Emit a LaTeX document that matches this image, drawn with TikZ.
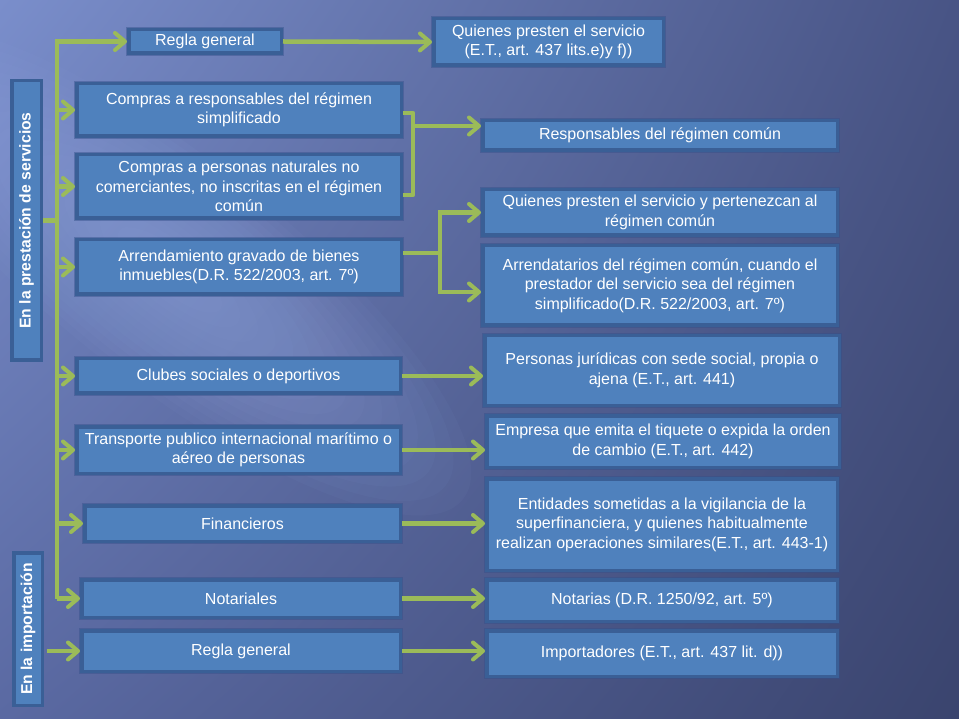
\documentclass[tikz,border=0pt]{standalone}
\usepackage{fontspec}
\setmainfont{Liberation Sans}
\usetikzlibrary{arrows.meta,calc,shadings}
\definecolor{bgUL}{HTML}{7A8ECB}
\definecolor{bgUR}{HTML}{485485}
\definecolor{bgLL}{HTML}{5A69A2}
\definecolor{bgLR}{HTML}{3A446E}
\definecolor{glow}{HTML}{9AB0E8}
\definecolor{boxfill}{HTML}{4F81BD}
\definecolor{boxline}{HTML}{3A5F96}
\definecolor{boxhalo}{HTML}{34508A}
\definecolor{conngreen}{HTML}{9BBB59}
\begin{document}
\begin{tikzpicture}[x=1pt,y=-1pt,
  box/.style={rectangle, fill=boxfill, draw=boxline, line width=3.5pt,
    preaction={draw=boxhalo, line width=6pt, opacity=0.45},
    text=white, align=center, inner sep=2pt,
    font=\fontsize{16}{19.5}\selectfont},
  sidebox/.style={rectangle, fill=boxfill, draw=boxline, line width=3.5pt,
    text=white, inner sep=2pt, font=\fontsize{15.7}{18}\selectfont\bfseries},
  conn/.style={draw=conngreen, line width=4.5pt},
  arr/.style={conn, -{Straight Barb[length=10pt,width=17pt,line width=4pt,round]}}
]
% background
\useasboundingbox (0,0) rectangle (959,719);
\shade[upper left=bgUL, upper right=bgUR, lower left=bgLL, lower right=bgLR] (0,0) rectangle (959,719);
\begin{scope}
\clip (0,0) rectangle (959,719);
\foreach \i in {1,...,16}{
  \fill[glow, opacity=0.045, rotate around={-38:(170,270)}]
    (170,270) ellipse [x radius={(22*\i+20)*1pt}, y radius={(6.5*\i+8)*1pt}];
}
\end{scope}

% side labels
\node[sidebox, minimum width=29.5pt, minimum height=279.5pt] (sp) at (26.5,220.5)
  {\rotatebox{90}{En la prestación de servicios}};
\node[sidebox, minimum width=28.5pt, minimum height=152.5pt] (si) at (28,629)
  {\rotatebox{90}{En la importación}};

% left boxes
\node[box, minimum width=152.5pt, minimum height=23.5pt] (rg1) at (205,41.5) {Regla general};
\node[box, minimum width=324.5pt, minimum height=52.5pt] (cr) at (239,110) {Compras a responsables del régimen\\simplificado};
\node[box, minimum width=324.5pt, minimum height=63.5pt] (cp) at (239,186.5) {Compras a personas naturales no\\comerciantes, no inscritas en el régimen\\común};
\node[box, minimum width=324.5pt, minimum height=54.5pt] (ar) at (239,267) {Arrendamiento gravado de bienes\\inmuebles(D.R. 522/2003, art. 7º)};
\node[box, minimum width=323.5pt, minimum height=34.5pt] (cl) at (238.5,376) {Clubes sociales o deportivos};
\node[box, minimum width=323.5pt, minimum height=46.5pt] (tr) at (238.5,450) {Transporte publico internacional marítimo o\\aéreo de personas};
\node[box, minimum width=315.5pt, minimum height=35.5pt] (fi) at (242.5,523.5) {Financieros};
\node[box, minimum width=318.5pt, minimum height=37.5pt] (no) at (241,598.5) {Notariales};
\node[box, minimum width=318.5pt, minimum height=40.5pt] (rg2) at (241,651) {Regla general};

% right boxes
\node[box, minimum width=229.5pt, minimum height=46.5pt] (qp) at (548.5,42) {Quienes presten el servicio\\(E.T., art. 437 lits.e)y f))};
\node[box, minimum width=354.5pt, minimum height=29.5pt] (rc) at (660,135.5) {Responsables del régimen común};
\node[box, minimum width=354.5pt, minimum height=45.5pt] (qs) at (660,212.5) {Quienes presten el servicio y pertenezcan al\\régimen común};
\node[box, minimum width=354.5pt, minimum height=79.5pt] (ad) at (660,285.5) {Arrendatarios del régimen común, cuando el\\prestador del servicio sea del régimen\\simplificado(D.R. 522/2003, art. 7º)};
\node[box, minimum width=354.5pt, minimum height=69.5pt] (pj) at (662,370.5) {Personas jurídicas con sede social, propia o\\ajena (E.T., art. 441)};
\node[box, minimum width=352.5pt, minimum height=51.5pt] (em) at (663,441.5) {Empresa que emita el tiquete o expida la orden\\de cambio (E.T., art. 442)};
\node[box, minimum width=350.5pt, minimum height=91.5pt] (en) at (662,524.5) {Entidades sometidas a la vigilancia de la\\superfinanciera, y quienes habitualmente\\realizan operaciones similares(E.T., art. 443-1)};
\node[box, minimum width=350.5pt, minimum height=41.5pt] (nt) at (662,600.5) {Notarias (D.R. 1250/92, art. 5º)};
\node[box, minimum width=350.5pt, minimum height=45.5pt] (im) at (662,653.5) {Importadores (E.T., art. 437 lit. d))};

% trunk
\coordinate (tb) at (57,598.5);
\draw[arr] (tb) |- (rg1.west);
\draw[arr] (tb) -- (no.west);
\draw[conn] (sp.east) -- (sp.east -| tb);
\foreach \n in {cr,cp,ar,cl,tr,fi}{
  \draw[arr] (\n.west -| tb) -- (\n.west);
}
\draw[arr, shorten <=3pt] (si.east |- rg2.west) -- (rg2.west);

% right side connectors
\draw[arr] (rg1.east) -- (qp.west);
\coordinate (b1) at (413,113);
\coordinate (b2) at (413,195);
\coordinate (bm) at (413,126);
\draw[conn, line join=round] (cr.east |- b1) -- (b1) -- (b2) -- (cp.east |- b2);
\draw[arr] (bm) -- (rc.west |- bm);
\coordinate (s1) at (440,253);
\coordinate (s2) at (440,292);
\draw[conn] (ar.east |- s1) -- (s1);
\draw[arr] (s1) |- (qs.west);
\draw[arr] (s1) -- (s2) -- (ad.west |- s2);
\draw[arr] (cl.east) -- (cl.east -| pj.west);
\draw[arr] (tr.east) -- (tr.east -| em.west);
\draw[arr] (fi.east) -- (fi.east -| en.west);
\draw[arr] (no.east) -- (no.east -| nt.west);
\draw[arr] (rg2.east) -- (rg2.east -| im.west);
\end{tikzpicture}
\end{document}
